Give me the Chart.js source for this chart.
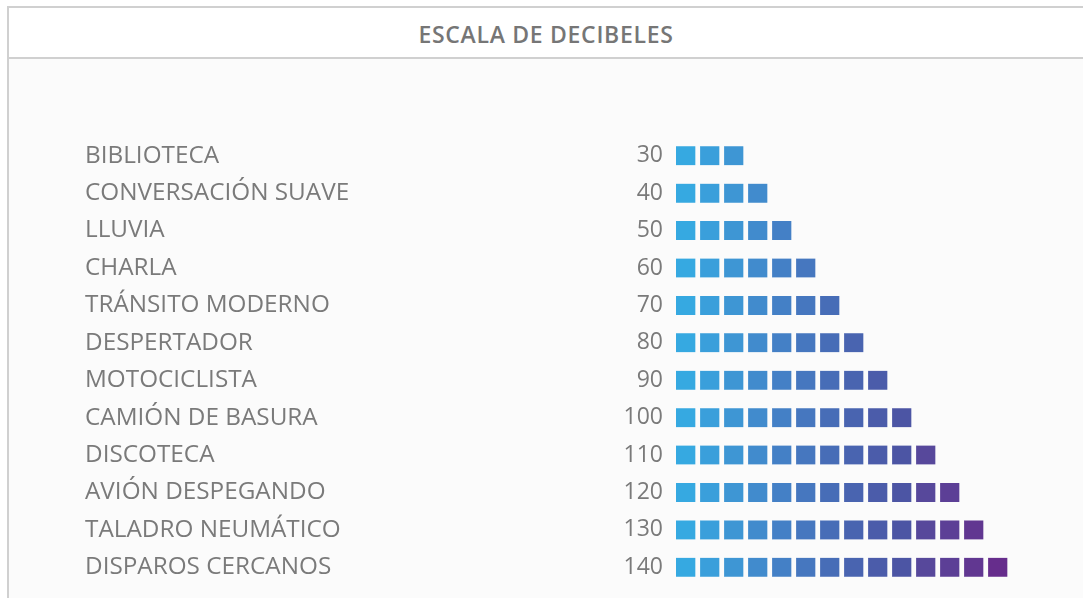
<!DOCTYPE html>
<html>
<head>
<meta charset="utf-8">
<script src="https://cdn.jsdelivr.net/npm/chart.js@4"></script>
<style>
    body { margin: 0; background: #ffffff; font-family: 'Open Sans', sans-serif; }
    #wrap { position: relative; width: 1083px; height: 598px; overflow: hidden; }
    #frame {
        position: absolute; left: 7px; top: 6px; right: 0; bottom: 0;
        border-left: 2px solid #d0d0d0; border-top: 2px solid #d0d0d0;
        background: #fbfbfb;
    }
    #header {
        height: 49px; border-bottom: 2px solid #d0d0d0; background: #ffffff;
        text-align: center; line-height: 52px;
        font-size: 23px; font-weight: 600; letter-spacing: 0.7px; color: #767676;
    }
    #chart_box { position: absolute; left: 0; top: 0; width: 1083px; height: 598px; }
</style>
</head>
<body>
<div id="wrap">
    <div id="frame"><div id="header">ESCALA DE DECIBELES</div></div>
    <div id="chart_box"><canvas id="db_chart"></canvas></div>
</div>
<script>

// sources of noise and their level in dB
let categories = ['BIBLIOTECA', 'CONVERSACIÓN SUAVE', 'LLUVIA', 'CHARLA', 'TRÁNSITO MODERNO',
    'DESPERTADOR', 'MOTOCICLISTA', 'CAMIÓN DE BASURA', 'DISCOTECA', 'AVIÓN DESPEGANDO',
    'TALADRO NEUMÁTICO', 'DISPAROS CERCANOS'];
let decibels = [30, 40, 50, 60, 70, 80, 90, 100, 110, 120, 130, 140];

// one square for every 10 dB
let squares = decibels.map(d => d / 10);

// colour of each square position, light blue -> purple
let square_colors = ['#36a9e1', '#3a9fdb', '#3e96d4', '#418bcd', '#4480c6', '#4677bf', '#476db7',
    '#4964b0', '#4b5caa', '#4c55a4', '#57489b', '#5c3f96', '#613791', '#662d8c'];

let datasets = [];
for (let i = 0; i < square_colors.length; i++) {
    datasets.push({
        label: 'cuadro ' + (i + 1),
        data: squares.map(n => n > i ? 1 : null),
        backgroundColor: square_colors[i],
        borderColor: '#fbfbfb',
        borderWidth: { top: 0, right: 5, bottom: 0, left: 0 },
        borderSkipped: false,
        barThickness: 19
    });
}

// the labels should not push the chart area in
function no_label_padding(scale, width) {
    scale.width = width;
    scale.paddingTop = 0;
    scale.paddingBottom = 0;
}

var db_chart = new Chart(document.getElementById('db_chart').getContext('2d'), {
    type: 'bar',
    data: {
        labels: categories,
        datasets: datasets
    },
    options: {
        indexAxis: 'y',
        responsive: true,
        maintainAspectRatio: false,
        animation: false,
        layout: {
            padding: { left: 85, right: 23, top: 137, bottom: 12 }
        },
        scales: {
            x: {
                display: false,
                stacked: true,
                min: 0,
                max: 16
            },
            y: {
                stacked: true,
                weight: 2,
                grid: { display: false, drawTicks: false },
                border: { display: false },
                ticks: {
                    crossAlign: 'far',
                    color: '#7a7a7a',
                    font: { family: 'Open Sans', size: 24.3 },
                    autoSkip: false
                },
                afterFit: function (scale) { no_label_padding(scale, 491); }
            },
            y2: {
                type: 'category',
                position: 'left',
                labels: decibels.map(String),
                offset: true,
                weight: 1,
                grid: { display: false, drawTicks: false },
                border: { display: false },
                ticks: {
                    padding: 13,
                    color: '#7a7a7a',
                    font: { family: 'Open Sans', size: 23 },
                    autoSkip: false
                },
                afterFit: function (scale) { no_label_padding(scale, 100); }
            }
        },
        plugins: {
            legend: { display: false },
            title: { display: false },
            tooltip: { enabled: false }
        }
    }
});
</script>
</body>
</html>
